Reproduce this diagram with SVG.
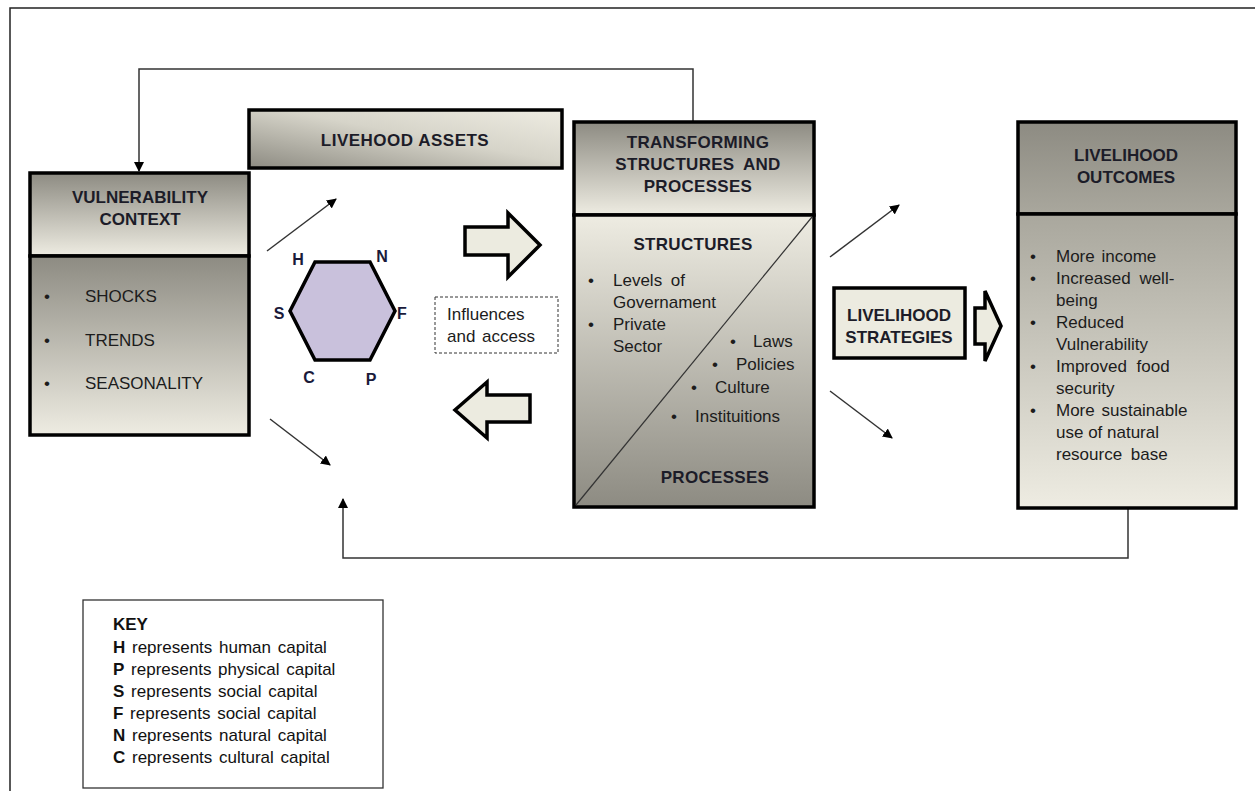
<svg xmlns="http://www.w3.org/2000/svg" width="1255" height="791" viewBox="0 0 1255 791">
<defs>
<linearGradient id="dl" x1="0" y1="0" x2="0" y2="1"><stop offset="0" stop-color="#8d8b82"/><stop offset="1" stop-color="#eeece2"/></linearGradient>
<linearGradient id="ld" x1="0" y1="0" x2="0" y2="1"><stop offset="0" stop-color="#eeece2"/><stop offset="1" stop-color="#8d8b82"/></linearGradient>
<linearGradient id="hd" x1="0" y1="0" x2="0" y2="1"><stop offset="0" stop-color="#8d8b82"/><stop offset="1" stop-color="#a9a79d"/></linearGradient>
<linearGradient id="ob" x1="0" y1="0" x2="0" y2="1"><stop offset="0" stop-color="#a9a79d"/><stop offset="1" stop-color="#eeece2"/></linearGradient>
<linearGradient id="as" x1="1" y1="0" x2="0" y2="1"><stop offset="0" stop-color="#eeece2"/><stop offset="0.45" stop-color="#d6d4c9"/><stop offset="1" stop-color="#8d8b82"/></linearGradient>
<marker id="ah" viewBox="0 0 10 10" refX="9" refY="5" markerWidth="10" markerHeight="10" markerUnits="userSpaceOnUse" orient="auto"><path d="M0,0 L10,5 L0,10 z" fill="#000"/></marker>
</defs>
<style>
.box{stroke:#000;stroke-width:3.5}
.hd{font-family:"Liberation Sans",Arial,sans-serif;font-weight:bold;font-size:17px;fill:#1c1c28;text-anchor:middle}
.tx{font-family:"Liberation Sans",Arial,sans-serif;font-size:17px;fill:#1c1c1c}
.kt{font-family:"Liberation Sans",Arial,sans-serif;font-size:17px;fill:#111;word-spacing:2px}
.lb{font-family:"Liberation Sans",Arial,sans-serif;font-weight:bold;font-size:16px;fill:#1a1a3a;text-anchor:middle}
.ln{fill:none;stroke:#333;stroke-width:1.5}
.blk{fill:#ecebe0;stroke:#000;stroke-width:3.5;stroke-linejoin:miter}
</style>
<rect x="0" y="0" width="1255" height="791" fill="#fff"/>
<rect x="10" y="8" width="1260" height="800" fill="none" stroke="#222" stroke-width="1.5"/>

<g id="connectors">
<polyline class="ln" points="693,122 693,69 139,69 139,171" marker-end="url(#ah)"/>
<polyline class="ln" points="1128,508 1128,558 343,558 343,499" marker-end="url(#ah)"/>
<line class="ln" x1="267" y1="251" x2="336" y2="199" marker-end="url(#ah)"/>
<line class="ln" x1="270" y1="419" x2="330" y2="465" marker-end="url(#ah)"/>
<line class="ln" x1="830" y1="257" x2="899" y2="205" marker-end="url(#ah)"/>
<line class="ln" x1="830" y1="391" x2="892" y2="438" marker-end="url(#ah)"/>
<polygon class="blk" points="465,227 508,227 508,213 540,245 508,277 508,255 465,255"/>
<polygon class="blk" points="530,395 487,395 487,382 455,410 487,438 487,422 530,422"/>
<polygon class="blk" points="975,308 985,308 985,291 1001,326 985,361 985,344 975,344"/>
</g>

<g id="vulnerability">
<rect class="box" x="30" y="173" width="219" height="83" fill="url(#dl)"/>
<rect class="box" x="30" y="256" width="219" height="179" fill="url(#dl)"/>
<text class="hd" x="140" y="203">VULNERABILITY</text>
<text class="hd" x="140" y="225">CONTEXT</text>
<text class="tx" x="44" y="302">•</text><text class="tx" x="85" y="302">SHOCKS</text>
<text class="tx" x="44" y="346">•</text><text class="tx" x="85" y="346">TRENDS</text>
<text class="tx" x="44" y="389">•</text><text class="tx" x="85" y="389">SEASONALITY</text>
</g>

<g id="assets">
<rect class="box" x="249" y="110" width="313" height="58" fill="url(#as)"/>
<text class="hd" x="405" y="146" letter-spacing="0.5">LIVEHOOD ASSETS</text>
</g>

<g id="hexagon">
<polygon points="315,262 370,262 395,311 370,360 315,360 290,311" fill="#c9c1dc" stroke="#000" stroke-width="3.5"/>
<text class="lb" x="298" y="265">H</text>
<text class="lb" x="382" y="262">N</text>
<text class="lb" x="279" y="319">S</text>
<text class="lb" x="402" y="319">F</text>
<text class="lb" x="309" y="383">C</text>
<text class="lb" x="371" y="385">P</text>
</g>

<g id="influences">
<rect x="435" y="297" width="123" height="56" fill="#fff" stroke="#333" stroke-width="1" stroke-dasharray="3,2"/>
<text class="tx" x="447" y="320" font-size="16">Influences</text>
<text class="tx" x="447" y="342" font-size="16" word-spacing="2">and access</text>
</g>

<g id="transforming">
<rect class="box" x="574" y="122" width="240" height="93" fill="url(#dl)"/>
<rect class="box" x="574" y="215" width="240" height="292" fill="url(#ld)"/>
<line x1="812" y1="217" x2="576" y2="505" stroke="#333" stroke-width="1.2"/>
<text class="hd" x="698" y="148" letter-spacing="0.3">TRANSFORMING</text>
<text class="hd" x="698" y="170" letter-spacing="0.3" word-spacing="4">STRUCTURES AND</text>
<text class="hd" x="698" y="192" letter-spacing="0.3">PROCESSES</text>
<text class="hd" x="693" y="250" letter-spacing="0.3">STRUCTURES</text>
<text class="tx" x="588" y="286">•</text><text class="tx" x="613" y="286" word-spacing="4">Levels of</text>
<text class="tx" x="613" y="308">Governament</text>
<text class="tx" x="588" y="330">•</text><text class="tx" x="613" y="330">Private</text>
<text class="tx" x="613" y="352">Sector</text>
<text class="tx" x="730" y="347">•</text><text class="tx" x="753" y="347">Laws</text>
<text class="tx" x="712" y="370">•</text><text class="tx" x="736" y="370">Policies</text>
<text class="tx" x="691" y="393">•</text><text class="tx" x="715" y="393">Culture</text>
<text class="tx" x="671" y="422">•</text><text class="tx" x="695" y="422">Instituitions</text>
<text class="hd" x="715" y="483" letter-spacing="0.3">PROCESSES</text>
</g>

<g id="strategies">
<rect class="box" x="834" y="288" width="131" height="70" fill="#ecebe0"/>
<text class="hd" x="899" y="321">LIVELIHOOD</text>
<text class="hd" x="899" y="343">STRATEGIES</text>
</g>

<g id="outcomes">
<rect class="box" x="1018" y="122" width="218" height="92" fill="url(#hd)"/>
<rect class="box" x="1018" y="214" width="218" height="294" fill="url(#ob)"/>
<text class="hd" x="1126" y="161">LIVELIHOOD</text>
<text class="hd" x="1126" y="183">OUTCOMES</text>
<text class="tx" x="1030" y="262">•</text><text class="tx" x="1056" y="262" word-spacing="2">More income</text>
<text class="tx" x="1030" y="284">•</text><text class="tx" x="1056" y="284" word-spacing="4">Increased well-</text>
<text class="tx" x="1056" y="306">being</text>
<text class="tx" x="1030" y="328">•</text><text class="tx" x="1056" y="328">Reduced</text>
<text class="tx" x="1056" y="350">Vulnerability</text>
<text class="tx" x="1030" y="372">•</text><text class="tx" x="1056" y="372" word-spacing="5">Improved food</text>
<text class="tx" x="1056" y="394">security</text>
<text class="tx" x="1030" y="416">•</text><text class="tx" x="1056" y="416" word-spacing="2">More sustainable</text>
<text class="tx" x="1056" y="438">use of natural</text>
<text class="tx" x="1056" y="460" word-spacing="4">resource base</text>
</g>

<g id="key">
<rect x="83" y="600" width="300" height="188" fill="#fff" stroke="#333" stroke-width="1.3"/>
<text class="kt" x="113" y="630" font-weight="bold">KEY</text>
<text class="kt" x="113" y="653"><tspan font-weight="bold">H</tspan> represents  human capital</text>
<text class="kt" x="113" y="675"><tspan font-weight="bold">P</tspan> represents  physical capital</text>
<text class="kt" x="113" y="697"><tspan font-weight="bold">S</tspan> represents  social capital</text>
<text class="kt" x="113" y="719"><tspan font-weight="bold">F</tspan> represents  social capital</text>
<text class="kt" x="113" y="741"><tspan font-weight="bold">N</tspan> represents  natural capital</text>
<text class="kt" x="113" y="763"><tspan font-weight="bold">C</tspan> represents  cultural capital</text>
</g>
</svg>
